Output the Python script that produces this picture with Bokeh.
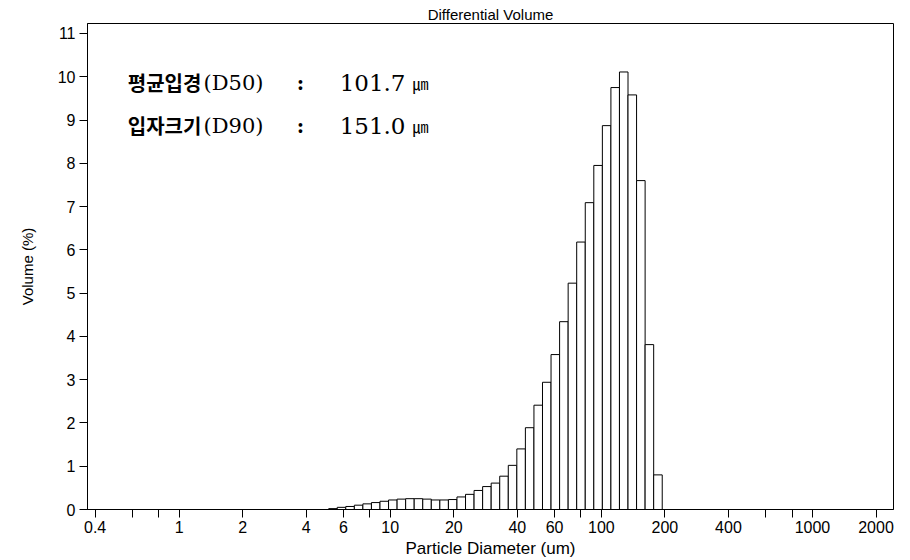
from bokeh.plotting import figure
from bokeh.models import FixedTicker, Range1d, Label, ColumnDataSource
from bokeh.embed import file_html
from bokeh.resources import INLINE

# Channel edges (um) of the bars drawn (log-spaced instrument channels)
bin_edges = [5.109, 5.608, 6.157, 6.759, 7.419, 8.145, 8.941, 9.815, 10.775, 11.828,
             12.984, 14.254, 15.647, 17.177, 18.857, 20.700, 22.724, 24.948, 27.386, 30.064,
             33.003, 36.230, 39.77, 43.66, 47.93, 52.62, 57.76, 63.41, 69.61, 76.41,
             83.88, 92.08, 101.09, 110.97, 121.82, 133.73, 146.81, 161.16, 176.92, 194.22]

# Differential volume (%) per channel
volume_pct = [0.02, 0.05, 0.07, 0.10, 0.13, 0.16, 0.19, 0.22, 0.24, 0.25,
              0.25, 0.24, 0.22, 0.22, 0.23, 0.29, 0.35, 0.44, 0.53, 0.61,
              0.77, 1.02, 1.40, 1.89, 2.41, 2.94, 3.58, 4.34, 5.23, 6.18,
              7.09, 7.95, 8.87, 9.75, 10.11, 9.58, 7.60, 3.81, 0.80]

x_major_ticks = [0.4, 1, 2, 4, 6, 10, 20, 40, 60, 100, 200, 400, 1000, 2000]
x_minor_ticks = [0.6, 0.8, 8, 80, 600, 800]
y_ticks = [0, 1, 2, 3, 4, 5, 6, 7, 8, 9, 10, 11]

title_text = "Differential Volume"
x_label = "Particle Diameter (um)"
y_label = "Volume (%)"
line1 = ["평균입경", "(D50)", ":", "101.7", "㎛"]
line2 = ["입자크기", "(D90)", ":", "151.0", "㎛"]

src = ColumnDataSource(dict(left=bin_edges[:-1], right=bin_edges[1:], top=volume_pct,
                            bottom=[0] * len(volume_pct)))

p = figure(width=910, height=560, x_axis_type="log",
           x_range=Range1d(0.368, 2420), y_range=Range1d(0, 11.23),
           output_backend="svg", toolbar_location=None,
           min_border_left=87, min_border_right=17, min_border_top=23, min_border_bottom=51,
           title=title_text)

p.title.align = "center"
p.title.text_font = "Liberation Sans"
p.title.text_font_size = "15px"
p.title.text_font_style = "normal"
p.title.text_color = "black"
p.title.standoff = 2
p.title.offset = 6

p.quad(left="left", right="right", top="top", bottom="bottom", source=src,
       fill_color="white", line_color="black", line_width=1)

p.grid.visible = False
p.outline_line_color = "black"
p.outline_line_width = 1
p.background_fill_color = "white"
p.border_fill_color = "white"

xa = p.xaxis[0]
xa.ticker = FixedTicker(ticks=x_major_ticks, minor_ticks=x_minor_ticks)
xa.major_tick_out = 8
xa.major_tick_in = 0
xa.minor_tick_out = 8
xa.minor_tick_in = 0
xa.minor_tick_line_color = "black"
xa.major_tick_line_color = "black"
xa.axis_line_color = "black"
xa.major_label_text_font = "Liberation Sans"
xa.major_label_text_font_size = "16px"
xa.major_label_text_color = "black"
xa.major_label_standoff = 3
xa.axis_label = x_label
xa.axis_label_text_font = "Liberation Sans"
xa.axis_label_text_font_size = "17px"
xa.axis_label_text_font_style = "normal"
xa.axis_label_text_color = "black"
xa.axis_label_standoff = 3

ya = p.yaxis[0]
ya.ticker = FixedTicker(ticks=y_ticks)
ya.major_tick_out = 8
ya.major_tick_in = 0
ya.minor_tick_line_color = None
ya.major_tick_line_color = "black"
ya.axis_line_color = "black"
ya.major_label_text_font = "Liberation Sans"
ya.major_label_text_font_size = "16px"
ya.major_label_text_color = "black"
ya.major_label_standoff = 4
ya.axis_label = y_label
ya.axis_label_text_font = "Liberation Sans"
ya.axis_label_text_font_size = "15px"
ya.axis_label_text_font_style = "normal"
ya.axis_label_text_color = "black"
ya.axis_label_standoff = 19


def px2x(px):
    return 10 ** ((px - 178.6) / 211.1)


def py2y(py):
    return (509 - py) / 43.28


seg_x = [164, 233, 300, 372, 420]
fonts = ["Noto Sans CJK KR", "DejaVu Serif", "DejaVu Serif", "DejaVu Serif", "Noto Sans CJK KR"]
sizes = ["20px", "21px", "20px", "23px", "16px"]
styles = ["bold", "normal", "bold", "normal", "normal"]
for line, py in ((line1, 82), (line2, 125)):
    for txt, sx, f, s, st in zip(line, seg_x, fonts, sizes, styles):
        p.add_layout(Label(x=px2x(sx), y=py2y(py), text=txt, text_font=f,
                           text_font_size=s, text_font_style=st, text_color="black",
                           text_align="center", text_baseline="middle"))

open("out.html", "w").write(file_html(p, INLINE))
